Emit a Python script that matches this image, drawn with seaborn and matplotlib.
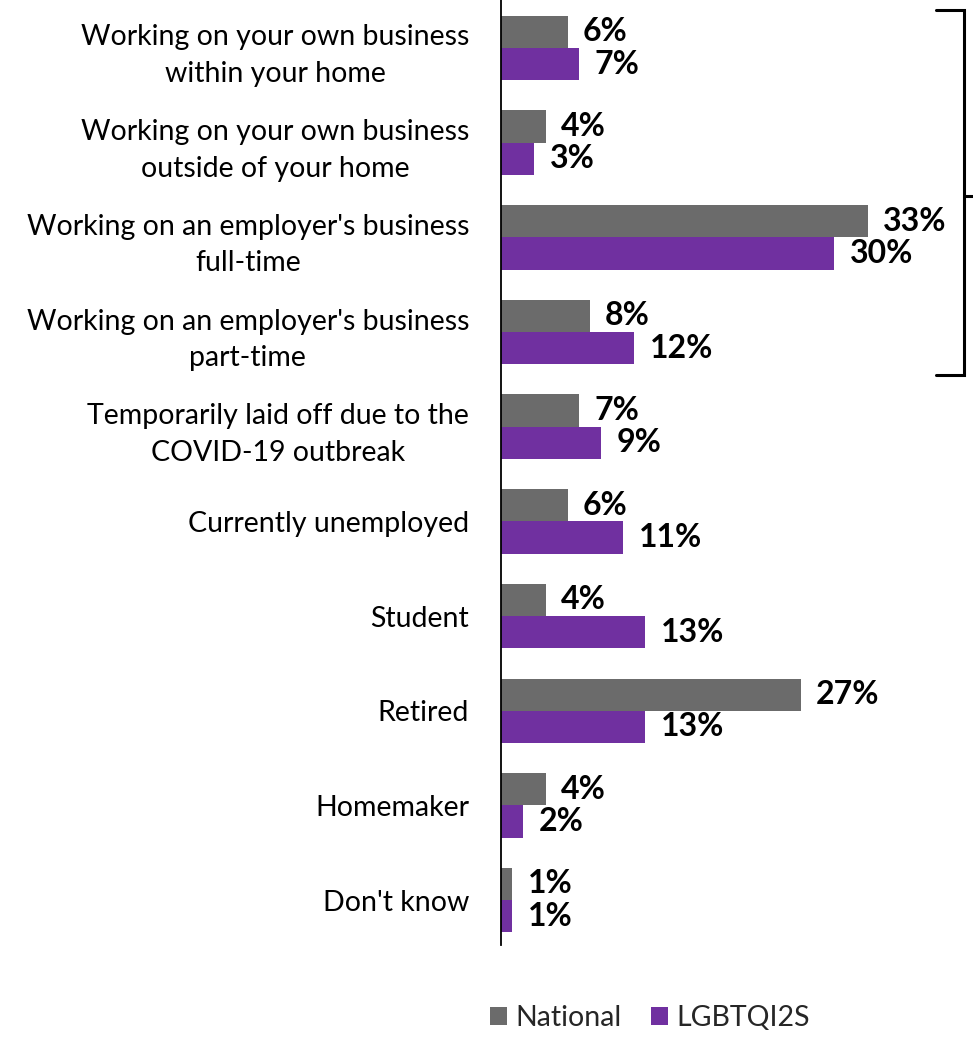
import matplotlib
matplotlib.use("Agg")
import matplotlib.pyplot as plt
import matplotlib.transforms as mtransforms
from matplotlib.patches import Patch
import seaborn as sns
import pandas as pd

categories = [
    "Working on your own business\nwithin your home",
    "Working on your own business\noutside of your home",
    "Working on an employer's business\nfull-time",
    "Working on an employer's business\npart-time",
    "Temporarily laid off due to the\nCOVID-19 outbreak",
    "Currently unemployed",
    "Student",
    "Retired",
    "Homemaker",
    "Don't know",
]
national = [6, 4, 33, 8, 7, 6, 4, 27, 4, 1]
lgbtqi2s = [7, 3, 30, 12, 9, 11, 13, 13, 2, 1]
series_names = ["National", "LGBTQI2S"]
colors = ["#6b6b6b", "#7030a0"]

df = pd.DataFrame({
    "category": categories * 2,
    "value": national + lgbtqi2s,
    "group": [series_names[0]] * len(categories) + [series_names[1]] * len(categories),
})

sns.set_theme(style="white")
plt.rcParams["font.family"] = ["Lato", "DejaVu Sans"]

fig = plt.figure(figsize=(9.73, 10.37), dpi=100)
ax = fig.add_axes([0.515, 0.0887, 0.485, 0.9113])

sns.barplot(
    data=df, y="category", x="value", hue="group", order=categories,
    hue_order=series_names, palette=colors, orient="h", width=0.68,
    gap=0, saturation=1, legend=False, linewidth=0, ax=ax,
)

for cont, vals in zip(ax.containers, [national, lgbtqi2s]):
    ax.bar_label(cont, labels=[f"{v}%" for v in vals], padding=11,
                 fontsize=23, fontweight="bold", color="black")

ax.set_xlim(0, 42.5)
ax.set_ylim(9.475, -0.507)
ax.set_xlabel("")
ax.set_ylabel("")
ax.set_xticks([])
for side in ["top", "right", "bottom"]:
    ax.spines[side].set_visible(False)
ax.spines["left"].set_color("black")
ax.spines["left"].set_linewidth(1.3)
ax.tick_params(axis="y", length=0, pad=23, labelsize=20.5, labelcolor="black")
for lbl in ax.get_yticklabels():
    lbl.set_horizontalalignment("right")
    lbl.set_multialignment("center")
    lbl.set_linespacing(1.5)

# Bracket grouping the employed categories
trans = mtransforms.blended_transform_factory(ax.transAxes, ax.transData)
bx, bl = 0.981, 0.922
ytop, ybot, ymid = -0.40, 3.45, 1.56
ax.plot([bl, bx, bx, bl], [ytop, ytop, ybot, ybot], color="black", lw=2.2,
        transform=trans, clip_on=False, solid_joinstyle="miter")
ax.plot([bx, 1.0], [ymid, ymid], color="black", lw=2.2,
        transform=trans, clip_on=False)

handles = [Patch(facecolor=c, edgecolor="none", label=n) for c, n in zip(colors, series_names)]
fig.legend(handles=handles, loc="center", bbox_to_anchor=(0.668, 0.018),
           ncol=2, frameon=False, fontsize=20.5, handlelength=0.6,
           handleheight=0.6, handletextpad=0.3, columnspacing=1.0)

fig.savefig("out.png", dpi=100)
